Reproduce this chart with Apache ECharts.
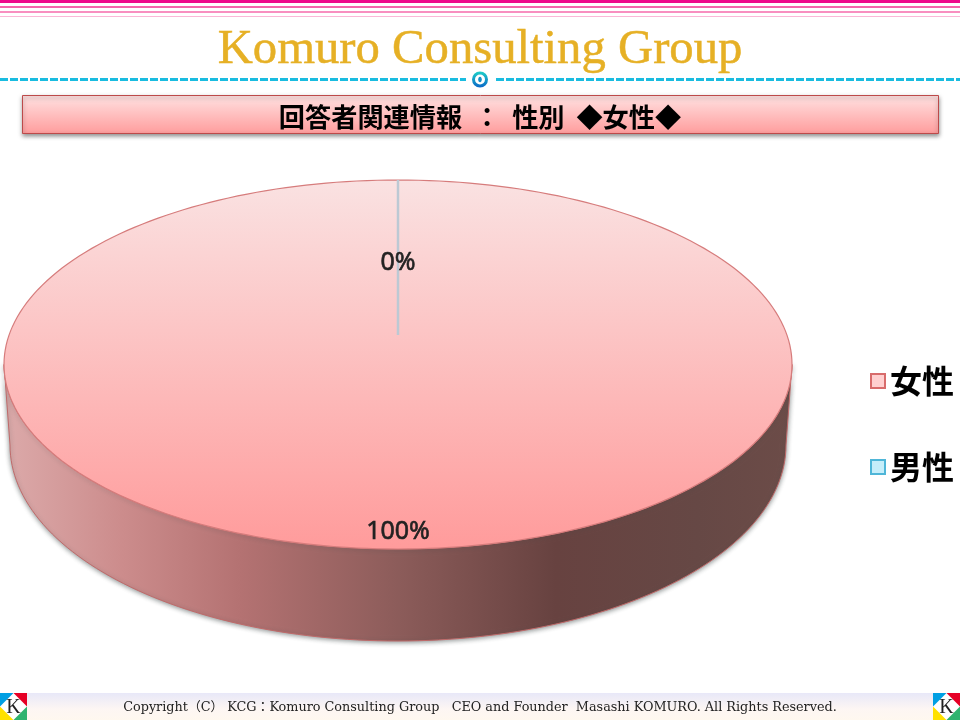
<!DOCTYPE html>
<html><head><meta charset="utf-8">
<style>html,body{margin:0;padding:0;background:#fff}#c{width:960px;height:720px}</style>
<script src="https://cdn.jsdelivr.net/npm/echarts@6/dist/echarts.min.js"></script>
</head><body><div id="c"></div>
<script>
const categories = ['女性', '男性'];
const shareValues = [100, 0];
const brandTitle = 'Komuro Consulting Group';
const bannerTitle = '回答者関連情報  ：  性別  ◆女性◆';
const footerText = 'Copyright（C） KCG：Komuro Consulting Group   CEO and Founder  Masashi KOMURO. All Rights Reserved.';

const G = {cx: 398, cy: 364.5, rx: 394, ry: 184.5, apexY: 335, bcy: 445, brx: 388, bry: 196};
const total = shareValues.reduce((a, b) => a + b, 0);
const topPt = t => [G.cx + G.rx * Math.sin(t), G.cy - G.ry * Math.cos(t)];
const botPt = t => [G.cx + G.brx * Math.sin(t), G.bcy - G.bry * Math.cos(t)];
const range = (a, b, n) => Array.from({length: n + 1}, (_, i) => a + (b - a) * i / n);
const topFill = {type: 'linear', x: 0, y: 0, x2: 0, y2: 1, colorStops: [{offset: 0, color: '#fae2e2'}, {offset: 1, color: '#ff9b9b'}]};
const wallFill = {type: 'linear', x: 0, y: 0, x2: 1, y2: 0, colorStops: [
  {offset: 0, color: '#dcaaaa'}, {offset: 0.15, color: '#cc8c8c'}, {offset: 0.3, color: '#b47272'},
  {offset: 0.5, color: '#8c5c5a'}, {offset: 0.7, color: '#674240'}, {offset: 0.88, color: '#664845'}, {offset: 1, color: '#6c4c48'}]};
const labelStyle = {align: 'center', verticalAlign: 'middle', font: '400 25px "Noto Sans", sans-serif', fill: '#222', stroke: '#222', lineWidth: 0.6};

function sectorItem(idx) {
  return function () {
    const before = shareValues.slice(0, idx).reduce((a, b) => a + b, 0);
    const a0 = before / total * 2 * Math.PI, a1 = (before + shareValues[idx]) / total * 2 * Math.PI;
    const mid = (a0 + a1) / 2, kids = [];
    if (a1 > a0) {
      const w0 = Math.max(a0, Math.PI / 2), w1 = Math.min(a1, Math.PI * 1.5);
      if (w1 > w0) {
        const ts = range(w0, w1, 120);
        kids.push({type: 'polygon', shape: {points: ts.map(topPt).concat(ts.slice().reverse().map(botPt))},
          style: {fill: wallFill, stroke: '#c06a6a', lineWidth: 1, shadowBlur: 5, shadowColor: 'rgba(60,70,70,0.6)', shadowOffsetX: 0, shadowOffsetY: 1}});
      }
      const full = a1 - a0 >= 2 * Math.PI - 1e-6;
      const pts = range(a0, a1, 240).map(topPt);
      if (!full) pts.unshift([G.cx, G.apexY]);
      kids.push({type: 'polygon', shape: {points: pts}, style: {fill: topFill, stroke: '#d67c7c', lineWidth: 1.2}});
      const p = [G.cx + G.rx * Math.sin(mid) * 0.9, G.cy - G.ry * Math.cos(mid) * 0.9 + 1];
      kids.push({type: 'text', z2: 50, style: Object.assign({text: Math.round(shareValues[idx] / total * 100) + '%', x: p[0], y: p[1]}, labelStyle)});
    } else {
      const e = topPt(a0);
      kids.push({type: 'line', shape: {x1: e[0], y1: e[1], x2: G.cx, y2: G.apexY}, style: {stroke: '#bcc9d4', lineWidth: 2.5}});
      kids.push({type: 'text', z2: 50, style: Object.assign({text: '0%', x: e[0], y: (e[1] + G.apexY) / 2 + 5}, labelStyle)});
    }
    return {type: 'group', children: kids};
  };
}
const legendStyles = [
  {color: '#ffd0d0', borderColor: '#d86c6c', borderWidth: 2},
  {color: '#c6eefa', borderColor: '#4fb6d8', borderWidth: 2}
];
function kLogo(x, y) {
  const s = 27, m = s / 2;
  const tri = (pts, fill) => ({type: 'polygon', shape: {points: pts}, style: {fill}});
  return {type: 'group', x, y, children: [
    {type: 'rect', shape: {x: 0, y: 0, width: s, height: s}, style: {fill: '#fff'}},
    tri([[0, 0], [m, 0], [0, m]], '#009fe3'),
    tri([[s, 0], [m, 0], [s, m]], '#e60026'),
    tri([[0, s], [0, m], [m, s]], '#ffe100'),
    tri([[s, s], [s, m], [m, s]], '#2fb36f'),
    {type: 'text', style: {text: 'K', x: m, y: m + 1, align: 'center', verticalAlign: 'middle', font: '20px "Liberation Serif", serif', fill: '#222'}}
  ]};
}
const hline = (y, h, fill) => ({type: 'rect', shape: {x: 0, y, width: 960, height: h}, style: {fill}});
const dash = (x1, x2) => ({type: 'line', shape: {x1, y1: 79.5, x2, y2: 79.5}, style: {stroke: '#1abce0', lineWidth: 3, lineDash: [8, 2]}});

const chart = echarts.init(document.getElementById('c'), null, {renderer: 'canvas'});
chart.setOption({
  animation: false,
  backgroundColor: '#fff',
  title: {text: brandTitle, left: 'center', top: 21, textStyle: {fontFamily: '"Liberation Serif", serif', fontSize: 48.7, fontWeight: 'normal', color: '#e6b025', textBorderColor: '#e6b025', textBorderWidth: 0.5}},
  legend: {
    orient: 'vertical', left: 870, top: 365, itemWidth: 14, itemHeight: 14, itemGap: 54, icon: 'rect',
    data: categories.map((n, i) => ({name: n, itemStyle: legendStyles[i]})),
    textStyle: {fontFamily: '"Noto Sans CJK JP", sans-serif', fontSize: 32, fontWeight: 'bold', color: '#000'},
    padding: 0, selectedMode: false
  },
  series: categories.map((n, i) => ({
    type: 'custom', name: n, coordinateSystem: 'none', silent: true, z: i === 0 ? 2 : 3,
    itemStyle: {color: legendStyles[i].color}, data: [shareValues[i]], renderItem: sectorItem(i)
  })),
  graphic: [
    hline(0, 3, '#ee0a8c'), hline(6, 2, '#f566ac'), hline(11, 2, '#f88fc0'), hline(16, 1, '#fbb8d8'),
    dash(0, 466), dash(496, 960),
    {type: 'circle', shape: {cx: 480, cy: 79.5, r: 6.5},
      style: {fill: '#fff', lineWidth: 3, stroke: {type: 'linear', x: 0, y: 0, x2: 0, y2: 1, colorStops: [{offset: 0, color: '#1fd0c8'}, {offset: 1, color: '#0a68c8'}]}}},
    {type: 'ellipse', shape: {cx: 480, cy: 79.5, rx: 1.8, ry: 2.8}, style: {fill: '#1490c8'}},
    {type: 'rect', shape: {x: 22.5, y: 95.5, width: 916, height: 38},
      style: {fill: {type: 'linear', x: 0, y: 0, x2: 0, y2: 1, colorStops: [{offset: 0, color: '#ffe2e2'}, {offset: 1, color: '#ff9c9c'}]},
        stroke: '#bd4a4a', lineWidth: 1, shadowBlur: 4, shadowColor: 'rgba(0,0,0,0.4)', shadowOffsetY: 2}},
    {type: 'text', style: {text: bannerTitle, x: 480, y: 117, align: 'center', verticalAlign: 'middle', font: 'bold 26.2px "Noto Sans CJK JP", sans-serif', fill: '#000'}},
    {type: 'rect', shape: {x: 0, y: 693, width: 960, height: 27},
      style: {fill: {type: 'linear', x: 0, y: 0, x2: 0, y2: 1, colorStops: [{offset: 0, color: '#e8e8f8'}, {offset: 0.6, color: '#fdf6f3'}, {offset: 1, color: '#fff8ef'}]}}},
    {type: 'text', style: {text: footerText, x: 480, y: 708, align: 'center', verticalAlign: 'middle', font: '12.8px "DejaVu Serif", "Noto Sans CJK JP", serif', fill: '#222'}},
    kLogo(0, 693), kLogo(933, 693)
  ]
});
</script></body></html>
